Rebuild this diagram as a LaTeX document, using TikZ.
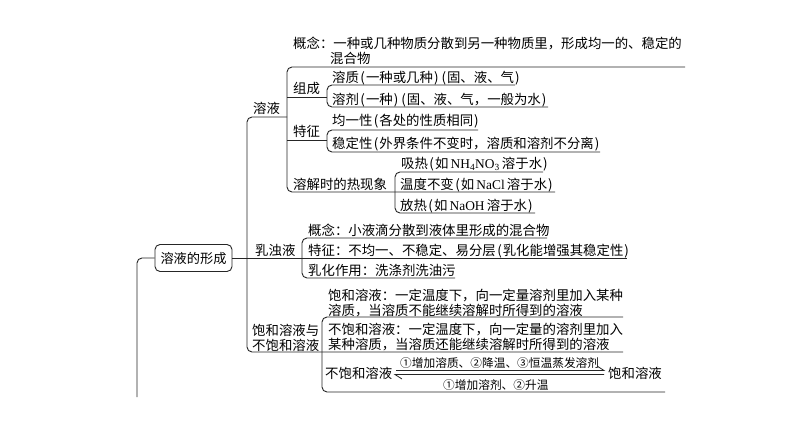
\documentclass[tikz,border=0pt]{standalone}
\usepackage{fontspec}
\setmainfont{Noto Sans CJK SC}
\newfontfamily\lat{Liberation Serif}
\newcommand{\LP}{\hspace{1.5pt}(\hspace{1pt}}
\newcommand{\RP}{\hspace{1pt})\hspace{1.5pt}}
\begin{document}
\begin{tikzpicture}[x=1pt,y=-1pt,
  every node/.style={inner sep=0pt},
  txt/.style={anchor=base west, font=\fontsize{13.4}{16}\selectfont, text=black},
  lbl/.style={anchor=base west, font=\fontsize{11.7}{14}\selectfont, text=black},
  ln/.style={draw=black!85, line width=0.9pt, rounded corners=5pt},
  hp/.style={draw=black!85, line width=0.8pt}]
\fill[white] (0,0) rectangle (794,447);
\useasboundingbox (0,0) rectangle (794,447);

% main box
\node[draw=black!85, line width=0.9pt, rounded corners=5pt, minimum width=77pt, minimum height=27pt,
      font=\fontsize{13.2}{16}\selectfont] (main) at (193.5,258) {溶液的形成};

% text nodes: solution
\node[txt] (c1) at (293,48) {概念：一种或几种物质分散到另一种物质里，形成均一的、稳定的};
\node[txt] (c2) at (330,63) {混合物};
\node[txt] (zc) at (293,93) {组成};
\node[txt] (rz) at (332,82) {溶质\LP 一种或几种\RP\LP 固、液、气\RP};
\node[txt] (rj) at (332,104) {溶剂\LP 一种\RP\LP 固、液、气，一般为水\RP};
\node[txt] (ry) at (253,113) {溶液};
\node[txt] (tz) at (293,136) {特征};
\node[txt] (jy) at (332,125) {均一性\LP 各处的性质相同\RP};
\node[txt] (wd) at (332,148) {稳定性\LP 外界条件不变时，溶质和溶剂不分离\RP};
\node[txt] (rx) at (293,189) {溶解时的热现象};
\node[txt] (xr) at (401,168) {吸热\LP 如\,{\lat NH\textsubscript{4}NO\textsubscript{3}}\,溶于水\RP};
\node[txt] (wb) at (400,189) {温度不变\LP 如\,{\lat NaCl}\,溶于水\RP};
\node[txt] (fr) at (400,210) {放热\LP 如\,{\lat NaOH}\,溶于水\RP};

% emulsion
\node[txt] (rzy) at (255,255) {乳浊液};
\node[txt] (g1) at (308,235) {概念：小液滴分散到液体里形成的混合物};
\node[txt] (g2) at (308,255) {特征：不均一、不稳定、易分层\LP 乳化能增强其稳定性\RP};
\node[txt] (g3) at (308,275) {乳化作用：洗涤剂洗油污};

% saturated
\node[txt] (b1) at (328,300) {饱和溶液：一定温度下，向一定量溶剂里加入某种};
\node[txt] (b2) at (328,315) {溶质，当溶质不能继续溶解时所得到的溶液};
\node[txt] (s1) at (252,335) {饱和溶液与};
\node[txt] (s2) at (252,350) {不饱和溶液};
\node[txt] (u1) at (328,334) {不饱和溶液：一定温度下，向一定量的溶剂里加入};
\node[txt] (u2) at (328,349) {某种溶质，当溶质还能继续溶解时所得到的溶液};
\node[txt] (cu) at (325,378) {不饱和溶液};
\node[txt] (cs) at (608,378) {饱和溶液};
\node[lbl] (la) at (400,367) {①增加溶质、②降温、③恒温蒸发溶剂};
\node[lbl] (lb) at (443,389.5) {①增加溶剂、②升温};

% coordinates
\coordinate (m0) at (137,397);
\coordinate (e1) at (627,258);
\coordinate (B1a) at (287,117);
\coordinate (B1b) at (247,352);
\coordinate (B1c) at (623,352);
\coordinate (R1a) at (685,67);
\coordinate (R1b) at (287,192);
\coordinate (R1c) at (555,192);
\coordinate (Z0) at (287,97);
\coordinate (Z1) at (327,97);
\coordinate (Z1a) at (515,85);
\coordinate (Z1b) at (327,107);
\coordinate (Z1c) at (548,107);
\coordinate (T0) at (287,140);
\coordinate (T1) at (327,140);
\coordinate (T1a) at (478,130);
\coordinate (T1b) at (327,152);
\coordinate (T1c) at (600,152);
\coordinate (H1a) at (543,172);
\coordinate (H1b) at (395,213);
\coordinate (H1c) at (535,213);
\coordinate (E1a) at (547,238);
\coordinate (E1b) at (302,278);
\coordinate (E1c) at (455,278);
\coordinate (S1a) at (623,317);
\coordinate (S1b) at (322,392);
\coordinate (S1c) at (665,392);
\coordinate (A1s) at (396,370.5);
\coordinate (A1e) at (604,370.5);
\coordinate (A1h) at (597,366);
\coordinate (A2s) at (604,374.5);
\coordinate (A2e) at (395,374.5);
\coordinate (A2h) at (402,379);

% lines
\draw[ln] (main.west) -| (m0);
\draw[ln] (main.east) -- (e1);
\draw[ln] (B1a) -| (B1b) -- (B1c);
\draw[ln] (R1a) -| (R1b) -- (R1c);
\draw[ln] (Z0) -- (Z1);
\draw[ln] (Z1a) -| (Z1b) -- (Z1c);
\draw[ln] (T0) -- (T1);
\draw[ln] (T1a) -| (T1b) -- (T1c);
\draw[ln] (H1a) -| (H1b) -- (H1c);
\draw[ln] (E1a) -| (E1b) -- (E1c);
\draw[ln] (S1a) -| (S1b) -- (S1c);
% reversible harpoons
\draw[hp] (A1s) -- (A1e) -- (A1h);
\draw[hp] (A2s) -- (A2e) -- (A2h);
\end{tikzpicture}
\end{document}
